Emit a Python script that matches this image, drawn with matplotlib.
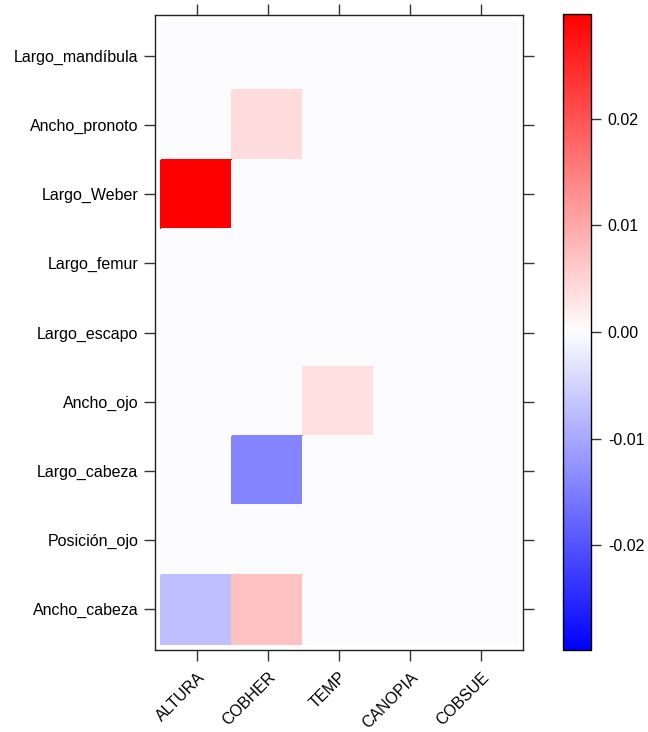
import numpy as np
import matplotlib
matplotlib.use("Agg")
import matplotlib.pyplot as plt
from matplotlib.colors import LinearSegmentedColormap, Normalize

plt.rcParams['font.family'] = ['Liberation Sans', 'DejaVu Sans']

rasgos = ["Largo_mandíbula", "Ancho_pronoto", "Largo_Weber", "Largo_femur",
          "Largo_escapo", "Ancho_ojo", "Largo_cabeza", "Posición_ojo", "Ancho_cabeza"]
variables = ["ALTURA", "COBHER", "TEMP", "CANOPIA", "COBSUE"]

# coeficientes (filas = rasgos, columnas = variables)
valores = [
    [0.0,     0.0,     0.0,    0.0, 0.0],
    [0.0,     0.0039,  0.0,    0.0, 0.0],
    [0.0300,  0.0,     0.0,    0.0, 0.0],
    [0.0,     0.0,     0.0,    0.0, 0.0],
    [0.0,     0.0,     0.0,    0.0, 0.0],
    [0.0,     0.0,     0.0035, 0.0, 0.0],
    [0.0,    -0.0143,  0.0,    0.0, 0.0],
    [0.0,     0.0,     0.0,    0.0, 0.0],
    [-0.0073, 0.0071,  0.0,    0.0, 0.0],
]
cbar_ticks = [-0.02, -0.01, 0.00, 0.01, 0.02]

Z = np.array(valores)
cmap = LinearSegmentedColormap.from_list(
    "bwr_lat", [(0.0, "#0000FF"), (0.49, "#F8F8FF"), (0.5, "#FBFBFE"),
                (0.51, "#FFF8F8"), (1.0, "#FF0000")], N=512)
norm = Normalize(vmin=-0.0298, vmax=0.0298)

fig = plt.figure(figsize=(6.48, 7.32), dpi=100)
ax = fig.add_axes([0.239, 0.112, 0.568, 0.8675])
nr, nc = Z.shape
xe = np.arange(nc + 1) - 0.5
ye = np.arange(nr + 1) - 0.5
ax.pcolormesh(xe, ye, Z, cmap=cmap, norm=norm, edgecolors='face', linewidth=0.3)
ax.set_xlim(-0.59, nc - 0.41)
ax.set_ylim(nr - 0.41, -0.59)

ax.set_xticks(range(nc))
ax.set_xticklabels(variables, rotation=45, ha='right', rotation_mode='anchor', fontsize=11.5)
ax.set_yticks(range(nr))
ax.set_yticklabels(rasgos, fontsize=11.5)
ax.tick_params(axis='both', which='both', direction='out', length=8, width=1,
               color='#333333', top=True, right=True, pad=4)
ax.tick_params(axis='x', pad=6)
for s in ax.spines.values():
    s.set_linewidth(1)
    s.set_color('#222222')

cax = fig.add_axes([0.869, 0.112, 0.0432, 0.869])
cb = fig.colorbar(plt.cm.ScalarMappable(norm=norm, cmap=cmap), cax=cax, ticks=cbar_ticks)
cb.ax.set_yticklabels(["%.2f" % t for t in cbar_ticks], fontsize=11.5)
cb.ax.tick_params(direction='out', length=7, width=1, color='#333333', pad=5)
cb.outline.set_linewidth(1)

fig.savefig("out.png", dpi=100)
